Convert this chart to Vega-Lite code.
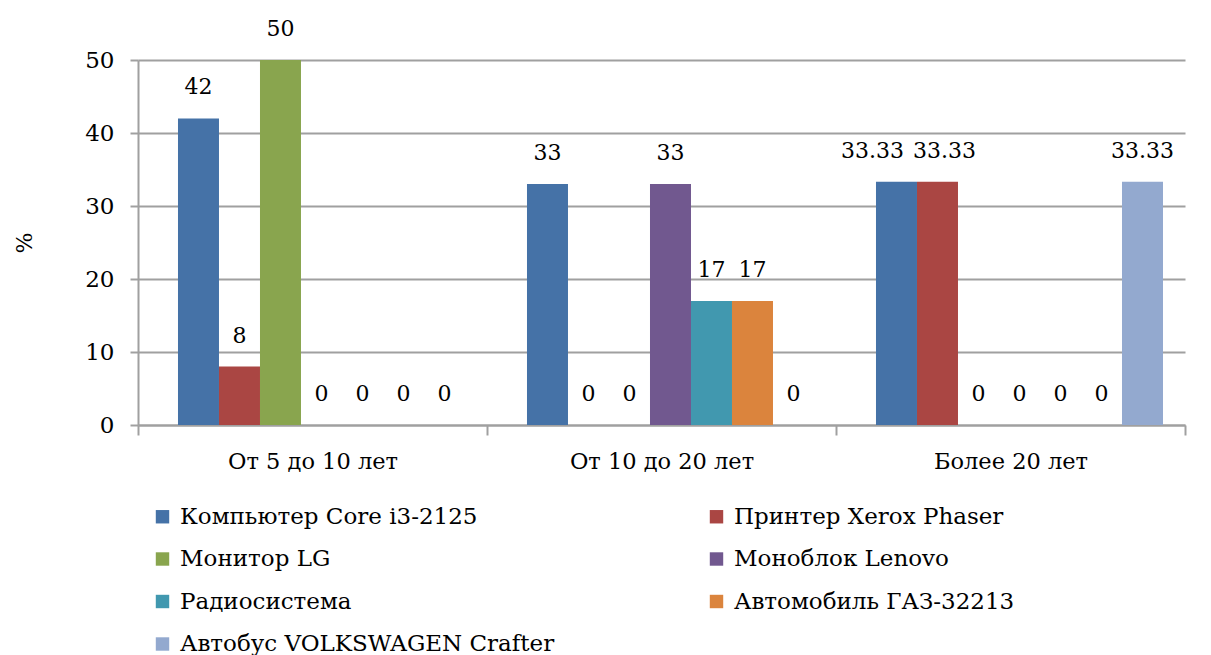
{
  "$schema": "https://vega.github.io/schema/vega-lite/v6.json",
  "width": 1047,
  "height": 365,
  "autosize": "none",
  "padding": {"left": 138, "top": 60, "right": 26, "bottom": 230},
  "background": "white",
  "config": {
    "font": "DejaVu Serif",
    "view": {"stroke": null}
  },
  "data": {
    "values": [
      {"group": "От 5 до 10 лет", "item": "Компьютер Core i3-2125", "value": 42, "label": "42"},
      {"group": "От 5 до 10 лет", "item": "Принтер Xerox Phaser", "value": 8, "label": "8"},
      {"group": "От 5 до 10 лет", "item": "Монитор LG", "value": 50, "label": "50"},
      {"group": "От 5 до 10 лет", "item": "Моноблок Lenovo", "value": 0, "label": "0"},
      {"group": "От 5 до 10 лет", "item": "Радиосистема", "value": 0, "label": "0"},
      {"group": "От 5 до 10 лет", "item": "Автомобиль ГАЗ-32213", "value": 0, "label": "0"},
      {"group": "От 5 до 10 лет", "item": "Автобус VOLKSWAGEN Crafter", "value": 0, "label": "0"},
      {"group": "От 10 до 20 лет", "item": "Компьютер Core i3-2125", "value": 33, "label": "33"},
      {"group": "От 10 до 20 лет", "item": "Принтер Xerox Phaser", "value": 0, "label": "0"},
      {"group": "От 10 до 20 лет", "item": "Монитор LG", "value": 0, "label": "0"},
      {"group": "От 10 до 20 лет", "item": "Моноблок Lenovo", "value": 33, "label": "33"},
      {"group": "От 10 до 20 лет", "item": "Радиосистема", "value": 17, "label": "17"},
      {"group": "От 10 до 20 лет", "item": "Автомобиль ГАЗ-32213", "value": 17, "label": "17"},
      {"group": "От 10 до 20 лет", "item": "Автобус VOLKSWAGEN Crafter", "value": 0, "label": "0"},
      {"group": "Более 20 лет", "item": "Компьютер Core i3-2125", "value": 33.33, "label": "33.33"},
      {"group": "Более 20 лет", "item": "Принтер Xerox Phaser", "value": 33.33, "label": "33.33"},
      {"group": "Более 20 лет", "item": "Монитор LG", "value": 0, "label": "0"},
      {"group": "Более 20 лет", "item": "Моноблок Lenovo", "value": 0, "label": "0"},
      {"group": "Более 20 лет", "item": "Радиосистема", "value": 0, "label": "0"},
      {"group": "Более 20 лет", "item": "Автомобиль ГАЗ-32213", "value": 0, "label": "0"},
      {"group": "Более 20 лет", "item": "Автобус VOLKSWAGEN Crafter", "value": 33.33, "label": "33.33"}
    ]
  },
  "encoding": {
    "x": {
      "field": "group", "type": "nominal", "sort": null,
      "scale": {"paddingInner": 0, "paddingOuter": 0},
      "axis": {
        "title": null, "labelAngle": 0, "labelFontSize": 22.5, "labelColor": "black",
        "labelPadding": 15, "labelLimit": 0, "tickBand": "extent", "tickSize": 10, "tickColor": "#a0a0a0",
        "tickWidth": 2, "domainColor": "#a0a0a0", "domainWidth": 2, "grid": false
      }
    },
    "xOffset": {"field": "item", "type": "nominal", "sort": null,
      "scale": {"paddingInner": 0, "paddingOuter": 0.756, "align": 0.645}},
    "y": {
      "field": "value", "type": "quantitative",
      "scale": {"domain": [0, 50], "nice": false},
      "axis": {
        "title": "%", "titleFontSize": 22, "titleFontWeight": "normal", "titleColor": "black",
        "titlePadding": 48,
        "values": [0, 10, 20, 30, 40, 50], "labelFontSize": 23, "labelColor": "black",
        "labelPadding": 16, "tickSize": 8, "tickColor": "#a0a0a0", "tickWidth": 2,
        "domainColor": "#a0a0a0", "domainWidth": 2,
        "gridColor": "#a0a0a0", "gridWidth": 2
      }
    }
  },
  "layer": [
    {
      "mark": {"type": "bar"},
      "encoding": {
        "color": {
          "field": "item", "type": "nominal", "sort": null,
          "scale": {
            "domain": ["Компьютер Core i3-2125", "Принтер Xerox Phaser", "Монитор LG", "Моноблок Lenovo", "Радиосистема", "Автомобиль ГАЗ-32213", "Автобус VOLKSWAGEN Crafter"],
            "range": ["#4572A7", "#AA4643", "#89A54E", "#71588F", "#4198AF", "#DB843D", "#93A9CF"]
          },
          "legend": {
            "title": null, "orient": "none", "direction": "horizontal", "columns": 2,
            "legendX": 13, "legendY": 445,
            "symbolType": "square", "symbolSize": 180, "symbolStrokeWidth": 0,
            "labelFontSize": 23, "labelColor": "black", "labelOffset": 6,
            "rowPadding": 18.5, "columnPadding": 150, "labelLimit": 600
          }
        }
      }
    },
    {
      "transform": [{"filter": "!(datum.group == 'Более 20 лет' && (datum.item == 'Компьютер Core i3-2125' || datum.item == 'Принтер Xerox Phaser'))"}],
      "mark": {"type": "text", "fontSize": 22, "dy": -31, "color": "black", "baseline": "middle"},
      "encoding": {"text": {"field": "label"}}
    },
    {
      "transform": [{"filter": "datum.group == 'Более 20 лет' && datum.item == 'Компьютер Core i3-2125'"}],
      "mark": {"type": "text", "fontSize": 22, "dy": -31, "dx": -24, "color": "black", "baseline": "middle"},
      "encoding": {"text": {"field": "label"}}
    },
    {
      "transform": [{"filter": "datum.group == 'Более 20 лет' && datum.item == 'Принтер Xerox Phaser'"}],
      "mark": {"type": "text", "fontSize": 22, "dy": -31, "dx": 7, "color": "black", "baseline": "middle"},
      "encoding": {"text": {"field": "label"}}
    }
  ]
}
